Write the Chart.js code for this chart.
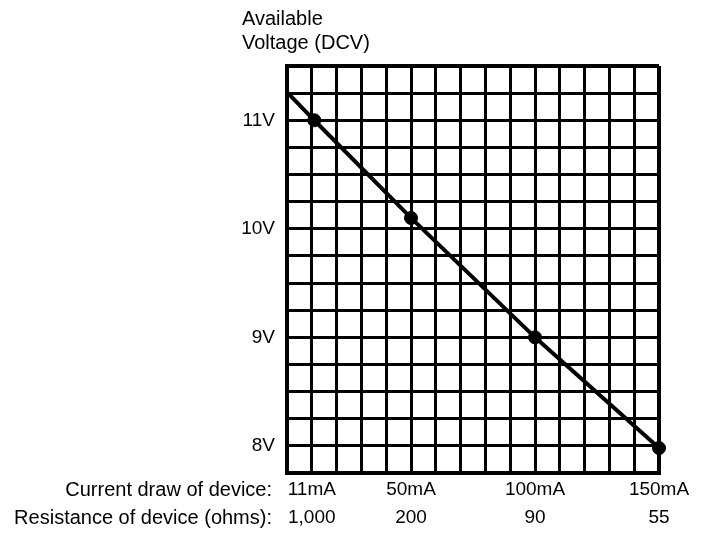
<!DOCTYPE html>
<html><head><meta charset="utf-8">
<script src="https://cdn.jsdelivr.net/npm/chart.js@4.4.0/dist/chart.umd.min.js"></script>
<style>html,body{margin:0;padding:0;background:#fff;}#wrap{width:709px;height:535px;}</style>
</head><body><div id="wrap"><canvas id="c" width="709" height="535"></canvas></div>
<script>
const currentMA = [11, 50, 100, 150];
const voltageDCV = [11.0, 10.1, 9.0, 7.98];
const currentLabels = ['11mA', '50mA', '100mA', '150mA'];
const resistanceLabels = ['1,000', '200', '90', '55'];
const voltageTickValues = [8, 9, 10, 11];
const voltageTickLabels = ['8V', '9V', '10V', '11V'];
const lineStartMA = 0;
const lineStartV = 11.26;
const titleLines = ['Available', 'Voltage (DCV)'];
const rowTitles = ['Current draw of device:', 'Resistance of device (ohms):'];

const FONT = "'Liberation Sans', Arial, sans-serif";
const X_PAD = 3, X_LH = 28;

const textPlugin = {
  id: 'textPlugin',
  afterDraw(chart) {
    const ctx = chart.ctx, ca = chart.chartArea, xs = chart.scales.x;
    ctx.save();
    ctx.fillStyle = '#000';
    ctx.font = '20px ' + FONT;
    ctx.textAlign = 'left';
    ctx.textBaseline = 'alphabetic';
    ctx.fillText(titleLines[0], ca.left - 45, 25);
    ctx.fillText(titleLines[1], ca.left - 45, 49);
    ctx.textAlign = 'right';
    ctx.textBaseline = 'middle';
    rowTitles.forEach((t, i) => {
      ctx.fillText(t, ca.left - 15, xs.top + X_PAD + X_LH / 2 + i * X_LH);
    });
    ctx.restore();
  }
};

new Chart(document.getElementById('c'), {
  type: 'line',
  data: {
    datasets: [
      {
        data: [{x: lineStartMA, y: lineStartV}, {x: currentMA[0], y: voltageDCV[0]}],
        borderColor: '#000', borderWidth: 4, pointRadius: 0, clip: false
      },
      {
        data: currentMA.map((x, i) => ({x, y: voltageDCV[i]})),
        borderColor: '#000', borderWidth: 4,
        pointRadius: 6.5, pointBackgroundColor: '#000', pointBorderColor: '#000', pointBorderWidth: 1,
        clip: false
      }
    ]
  },
  options: {
    responsive: false, animation: false, devicePixelRatio: 1,
    layout: {padding: {left: 200, right: 50, top: 66, bottom: 0}},
    plugins: {legend: {display: false}, tooltip: {enabled: false}, title: {display: false}},
    scales: {
      x: {
        type: 'linear', min: 0, max: 150,
        afterBuildTicks(s) { const t = []; for (let v = 0; v <= 150; v += 10) t.push({value: v}); s.ticks = t; },
        afterFit(s) { s.height = 62; },
        ticks: {
          autoSkip: false, maxRotation: 0, color: '#000', padding: X_PAD,
          font: {family: FONT, size: 19, lineHeight: X_LH / 19},
          callback(value) {
            const i = currentMA.findIndex(c => Math.abs(c - value) < 5);
            return i >= 0 ? [currentLabels[i], resistanceLabels[i]] : '';
          }
        },
        grid: {color: '#000', lineWidth: c => (c.index === 15 ? 4 : 3), drawTicks: false},
        border: {display: true, width: 4, color: '#000'}
      },
      y: {
        type: 'linear', min: 7.75, max: 11.5,
        afterBuildTicks(s) { const t = []; for (let k = 0; k <= 15; k++) t.push({value: 7.75 + k * 0.25}); s.ticks = t; },
        afterFit(s) { s.width = 87; },
        ticks: {
          autoSkip: false, color: '#000', padding: 12,
          font: {family: FONT, size: 19},
          callback(value) {
            const i = voltageTickValues.findIndex(v => Math.abs(v - value) < 1e-6);
            return i >= 0 ? voltageTickLabels[i] : '';
          }
        },
        grid: {color: '#000', lineWidth: c => (c.index === 15 ? 4 : 3), drawTicks: false},
        border: {display: true, width: 4, color: '#000'}
      }
    }
  },
  plugins: [textPlugin]
});
</script>
</body></html>
